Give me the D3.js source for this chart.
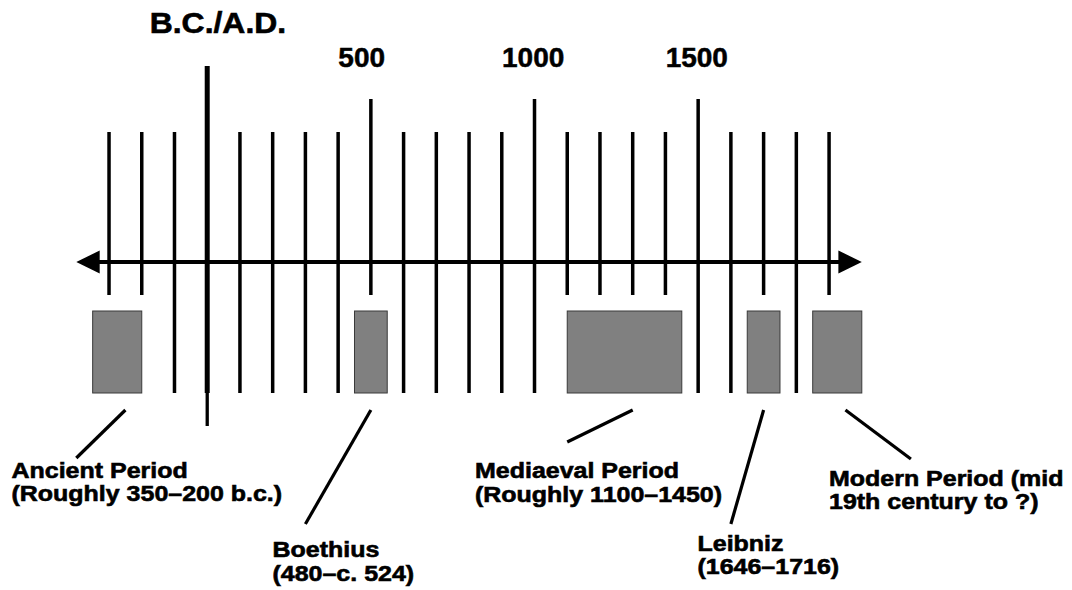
<!DOCTYPE html>
<html>
<head>
<meta charset="utf-8">
<script src="https://cdn.jsdelivr.net/npm/d3@7"></script>
<style>
  html, body { margin: 0; padding: 0; background: #ffffff; }
  svg { display: block; }
  text { font-family: "Liberation Sans", Arial, Helvetica, sans-serif; font-weight: bold; fill: #000; stroke: #000; }
</style>
</head>
<body>
<svg id="chart" width="1072" height="590"></svg>
<script>
// ---- data ----
const tickYears = [-300, -200, -100, 0, 100, 200, 300, 400, 500, 600, 700, 800, 900,
                   1000, 1100, 1200, 1300, 1400, 1500, 1600, 1700, 1800, 1900];
const majorYears = [500, 1000, 1500];
const eraYear = 0;
const axisDomain = [-400, 2000];
const yearLabels = ["500", "1000", "1500"];
const yearLabelYears = [500, 1000, 1500];
const eraLabel = "B.C./A.D.";

const periodNames = ["Ancient", "Boethius", "Mediaeval", "Leibniz", "Modern"];
const periodStart = [-350, 450, 1100, 1650, 1850];
const periodEnd   = [-200, 550, 1450, 1750, 2000];
const leaderFromYear = [-250, 500, 1300, 1700, 1950];
const leaderToYear   = [-400, 300, 1100, 1600, 2150];
const labelLines = [
  ["Ancient Period", "(Roughly 350\u2013200 b.c.)"],
  ["Boethius", "(480\u2013c. 524)"],
  ["Mediaeval Period", "(Roughly 1100\u20131450)"],
  ["Leibniz", "(1646\u20131716)"],
  ["Modern Period (mid", "19th century to ?)"]
];

// ---- layout ----
const L = {
  axisY: 262,
  tickTop: 132, majorTop: 99, eraTop: 66,
  tickBottom: 393, tickBottomBox: 295, eraBottom: 426,
  boxTop: 311, boxBottom: 393,
  leaderTop: 410,
  leaderBottom: [458, 524, 442, 524, 459],
  labelX: [11.5, 272.5, 475, 697.5, 829],
  labelY: [478, 557, 478, 550.5, 485.5],
  lineGap: [23, 23.5, 24, 23.5, 23],
  labelStretch: 1.135
};

const svg = d3.select("#chart");
const x = d3.scaleLinear().domain(axisDomain).range([76.3, 861.8]);

// ticks
const inBox = yr => periodStart.some((s, i) => yr >= s && yr <= periodEnd[i]);
const tickG = svg.append("g");
tickYears.forEach(yr => {
  const top = yr === eraYear ? L.eraTop : (majorYears.includes(yr) ? L.majorTop : L.tickTop);
  const bottom = inBox(yr) ? L.tickBottomBox : L.tickBottom;
  tickG.append("line")
    .attr("x1", x(yr)).attr("x2", x(yr))
    .attr("y1", top).attr("y2", bottom)
    .attr("stroke", "#000")
    .attr("stroke-width", yr === eraYear ? 5 : 3.5);
  if (yr === eraYear) {
    tickG.append("line")
      .attr("x1", x(yr)).attr("x2", x(yr))
      .attr("y1", bottom).attr("y2", L.eraBottom)
      .attr("stroke", "#000").attr("stroke-width", 3.3);
  }
});

// axis line with arrows
const arrowLen = 23.4, arrowHalf = 11.5;
svg.append("line")
  .attr("x1", x(axisDomain[0]) + arrowLen - 1).attr("x2", x(axisDomain[1]) - arrowLen + 1)
  .attr("y1", L.axisY).attr("y2", L.axisY)
  .attr("stroke", "#000").attr("stroke-width", 4);
const lx = x(axisDomain[0]), rx = x(axisDomain[1]);
svg.append("path")
  .attr("d", `M${lx},${L.axisY} L${lx + arrowLen},${L.axisY - arrowHalf} L${lx + arrowLen},${L.axisY + arrowHalf} Z`)
  .attr("fill", "#000");
svg.append("path")
  .attr("d", `M${rx},${L.axisY} L${rx - arrowLen},${L.axisY - arrowHalf} L${rx - arrowLen},${L.axisY + arrowHalf} Z`)
  .attr("fill", "#000");

// period boxes
svg.append("g").selectAll("rect")
  .data(periodNames)
  .join("rect")
  .attr("x", (d, i) => x(periodStart[i]))
  .attr("width", (d, i) => x(periodEnd[i]) - x(periodStart[i]))
  .attr("y", L.boxTop)
  .attr("height", L.boxBottom - L.boxTop)
  .attr("fill", "#808080")
  .attr("stroke", "#3a3a3a")
  .attr("stroke-width", 1);

// leader lines
svg.append("g").selectAll("line")
  .data(periodNames)
  .join("line")
  .attr("x1", (d, i) => x(leaderFromYear[i]))
  .attr("y1", L.leaderTop)
  .attr("x2", (d, i) => x(leaderToYear[i]))
  .attr("y2", (d, i) => L.leaderBottom[i])
  .attr("stroke", "#000")
  .attr("stroke-width", 3.2);

// period labels
const stretch = (sel, f) => sel.each(function () {
  const w = this.getComputedTextLength();
  d3.select(this).attr("textLength", w * f).attr("lengthAdjust", "spacingAndGlyphs");
});
labelLines.forEach((lines, i) => {
  lines.forEach((t, j) => {
    svg.append("text")
      .attr("x", L.labelX[i])
      .attr("y", L.labelY[i] + j * L.lineGap[i])
      .attr("font-size", 22)
      .attr("stroke-width", 0.6)
      .text(t)
      .call(stretch, L.labelStretch);
  });
});

// year labels
yearLabels.forEach((t, i) => {
  svg.append("text")
    .attr("x", x(yearLabelYears[i]) - 32.5)
    .attr("y", 66.5)
    .attr("font-size", 28)
    .attr("stroke-width", 0.5)
    .text(t);
});
svg.append("text")
  .attr("x", x(eraYear) - 57.5)
  .attr("y", 33.3)
  .attr("font-size", 29)
  .attr("stroke-width", 0.6)
  .text(eraLabel)
  .call(stretch, 1.1);
</script>
</body>
</html>
